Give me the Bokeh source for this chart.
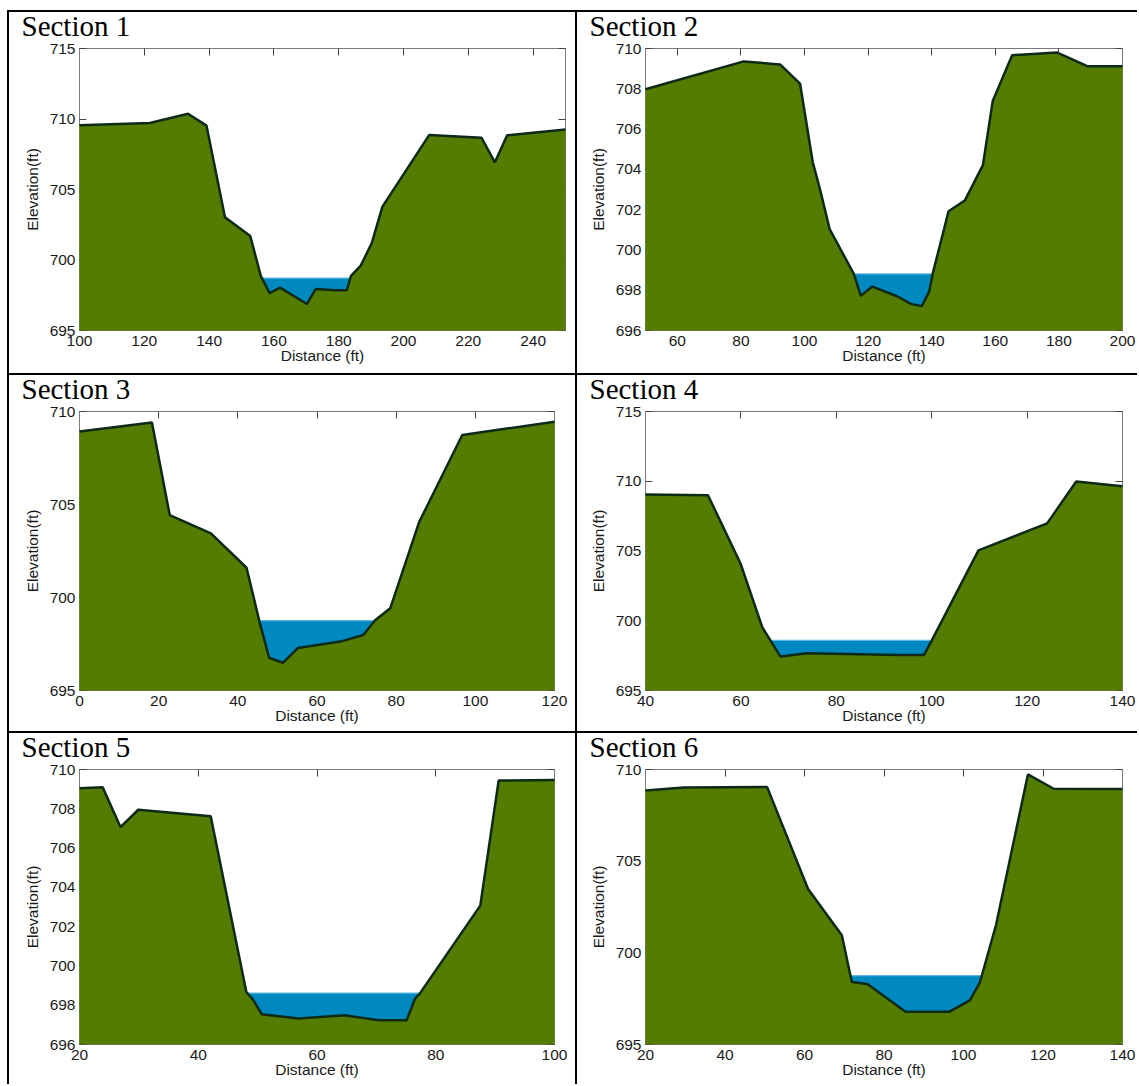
from bokeh.plotting import figure
from bokeh.layouts import column, row
from bokeh.models import LinearAxis, FixedTicker, Range1d, CustomLabelingPolicy
from bokeh.core.properties import value
from bokeh.embed import file_html
from bokeh.resources import INLINE

# ---------------- data ----------------
titles = ["Section 1", "Section 2", "Section 3", "Section 4", "Section 5", "Section 6"]

s1_x = [100, 121.7, 133.5, 139.2, 144.9, 152.7, 156.0, 158.7, 161.9, 170.2, 172.9, 178.9,
        182.5, 183.8, 186.8, 190.2, 193.5, 207.9, 224.1, 228.2, 232.0, 250]
s1_y = [709.56, 709.72, 710.37, 709.53, 703.04, 701.7, 698.84, 697.65, 698.04, 696.88, 697.95,
        697.86, 697.86, 698.88, 699.6, 701.2, 703.79, 708.86, 708.67, 706.93, 708.84, 709.26]
s1_level = 698.72
s1_wx = [156.2, 183.9]

s2_x = [50, 80.9, 92.3, 98.6, 102.6, 104.9, 107.9, 115.5, 117.7, 121.3, 129.1, 133.5, 136.9,
        139.2, 140.3, 145.3, 150.4, 156.1, 159.2, 165.3, 179.5, 188.9, 200]
s2_y = [707.98, 709.36, 709.21, 708.26, 704.35, 703.0, 701.04, 698.81, 697.72, 698.18, 697.70,
        697.32, 697.21, 697.93, 698.81, 701.92, 702.45, 704.21, 707.40, 709.67, 709.80, 709.12, 709.12]
s2_level = 698.81
s2_wx = [115.5, 140.3]

s3_x = [0, 18.3, 22.8, 33.2, 42.2, 45.4, 47.9, 51.4, 55.2, 65.9, 71.7, 74.6, 78.5, 85.8, 96.7, 120]
s3_y = [708.92, 709.41, 704.43, 703.45, 701.60, 698.76, 696.76, 696.49, 697.29, 697.63, 697.98,
        698.76, 699.42, 704.05, 708.74, 709.45]
s3_level = 698.76
s3_wx = [45.4, 74.6]

s4_x = [40, 53.1, 59.9, 64.5, 68.3, 73.9, 93.0, 98.4, 100.0, 109.8, 124.2, 130.3, 140]
s4_y = [709.05, 709.0, 704.12, 699.52, 697.43, 697.67, 697.55, 697.55, 698.57, 705.05, 706.98,
        709.98, 709.64]
s4_level = 698.6
s4_wx = [65.8, 100.0]

s5_x = [20, 23.9, 26.9, 29.9, 42.1, 48.1, 49.3, 50.7, 56.9, 64.6, 70.4, 75.1, 76.5, 77.3,
        87.5, 90.6, 100]
s5_y = [709.04, 709.10, 707.07, 707.95, 707.62, 698.67, 698.25, 697.54, 697.32, 697.49, 697.23,
        697.23, 698.33, 698.59, 703.07, 709.44, 709.46]
s5_level = 698.62
s5_wx = [48.0, 77.3]

s6_x = [20, 29.6, 50.6, 60.9, 69.4, 71.9, 75.8, 85.4, 96.5, 101.6, 104.1, 108.2, 116.2, 122.7, 140]
s6_y = [708.85, 709.02, 709.04, 703.48, 700.96, 698.41, 698.30, 696.79, 696.79, 697.41, 698.37,
        701.53, 709.73, 708.95, 708.93]
s6_level = 698.76
s6_wx = [71.6, 104.4]

x_limits = [(100, 250), (50, 200), (0, 120), (40, 140), (20, 100), (20, 140)]
y_limits = [(695, 715), (696, 710), (695, 710), (695, 715), (696, 710), (695, 710)]
x_ticks = [[100, 120, 140, 160, 180, 200, 220, 240],
           [60, 80, 100, 120, 140, 160, 180, 200],
           [0, 20, 40, 60, 80, 100, 120],
           [40, 60, 80, 100, 120, 140],
           [20, 40, 60, 80, 100],
           [20, 40, 60, 80, 100, 120, 140]]
y_ticks = [[695, 700, 705, 710, 715],
           [696, 698, 700, 702, 704, 706, 708, 710],
           [695, 700, 705, 710],
           [695, 700, 705, 710, 715],
           [696, 698, 700, 702, 704, 706, 708, 710],
           [695, 700, 705, 710]]

grounds_x = [s1_x, s2_x, s3_x, s4_x, s5_x, s6_x]
grounds_y = [s1_y, s2_y, s3_y, s4_y, s5_y, s6_y]
levels = [s1_level, s2_level, s3_level, s4_level, s5_level, s6_level]
water_x = [s1_wx, s2_wx, s3_wx, s4_wx, s5_wx, s6_wx]

# ---------------- layout / style ----------------
GREEN = "#547C00"
WATER = "#0088C0"
EDGE = "#0E2A17"
FRAME = "#7A7A7A"
TXT = "#1A1A1A"

cell_w = [568, 562]
cell_h = [363, 358, 353]
# (left, right, top, bottom) minimum borders per cell
borders = [(70, 12, 36, 42), (68, 17, 36, 45),
           (70, 23, 36, 42), (68, 17, 36, 43),
           (70, 23, 36, 42), (68, 17, 36, 42)]


def style_axis(ax, ticks, labels=True, tick_gap=4, label_gap=0):
    ax.ticker = FixedTicker(ticks=ticks)
    ax.major_tick_in = 7
    ax.major_tick_out = 0
    ax.minor_tick_in = 0
    ax.minor_tick_out = 0
    ax.axis_line_color = FRAME
    ax.major_tick_line_color = "#444444"
    ax.major_label_text_font = "Liberation Sans"
    ax.major_label_text_color = TXT
    ax.axis_label_text_font = "Liberation Sans"
    ax.axis_label_text_font_size = "15.5px"
    ax.axis_label_text_font_style = "normal"
    ax.axis_label_text_color = TXT
    if labels:
        ax.major_label_text_font_size = "15.5px"
        ax.major_label_standoff = tick_gap
        ax.axis_label_standoff = label_gap
    else:
        ax.major_label_text_font_size = "1px"
        ax.major_label_standoff = 0
        ax.major_label_policy = CustomLabelingPolicy(
            code="for (const i of indices) { indices.unset(i) } return indices")


def make_cell(i):
    r, c = divmod(i, 2)
    bl, br, bt, bb = borders[i]
    css = {"border-left": "2px solid black", "border-top": "2px solid black",
           "box-sizing": "border-box"}
    p = figure(width=cell_w[c], height=cell_h[r],
               x_range=Range1d(*x_limits[i]), y_range=Range1d(*y_limits[i]),
               output_backend="svg", toolbar_location=None,
               min_border_left=bl, min_border_right=br,
               min_border_top=bt, min_border_bottom=bb,
               x_axis_label="Distance (ft)", y_axis_label="Elevation(ft)",
               styles=css)
    p.xgrid.visible = False
    p.ygrid.visible = False
    p.outline_line_color = FRAME
    p.outline_line_width = 1
    p.background_fill_color = "white"
    p.border_fill_color = "white"

    style_axis(p.xaxis[0], x_ticks[i], tick_gap=5, label_gap=-2)
    style_axis(p.yaxis[0], y_ticks[i], tick_gap=4, label_gap=6)
    top = LinearAxis()
    style_axis(top, x_ticks[i], labels=False)
    p.add_layout(top, "above")
    right = LinearAxis()
    style_axis(right, y_ticks[i], labels=False)
    p.add_layout(right, "right")

    base = y_limits[i][0]
    gx, gy = grounds_x[i], grounds_y[i]
    wx = water_x[i]
    lv = levels[i]
    bed = min(gy)
    p.varea(x=wx, y1=[bed, bed], y2=[lv, lv], fill_color=WATER, level="overlay")
    p.line(x=wx, y=[lv, lv], line_color="#5CB6E2", line_width=1.2, level="overlay")
    p.varea(x=gx, y1=[base] * len(gx), y2=gy, fill_color=GREEN, level="overlay")
    p.line(x=gx, y=gy, line_color=EDGE, line_width=2.5, level="overlay")

    # section title, anchored at the top-left corner of the frame
    p.text(x=[x_limits[i][0]], y=[y_limits[i][1]], text=[titles[i]],
           x_offset=12 - bl, y_offset=-23,
           text_font=value("Liberation Serif"), text_font_size="29px",
           text_color="black", text_baseline="alphabetic", text_align="left",
           level="overlay")
    return p


figs = [make_cell(i) for i in range(6)]
layout = column(row(figs[0], figs[1]), row(figs[2], figs[3]), row(figs[4], figs[5]),
                margin=(10, 0, 0, 7))

open("out.html", "w").write(file_html(layout, INLINE))
